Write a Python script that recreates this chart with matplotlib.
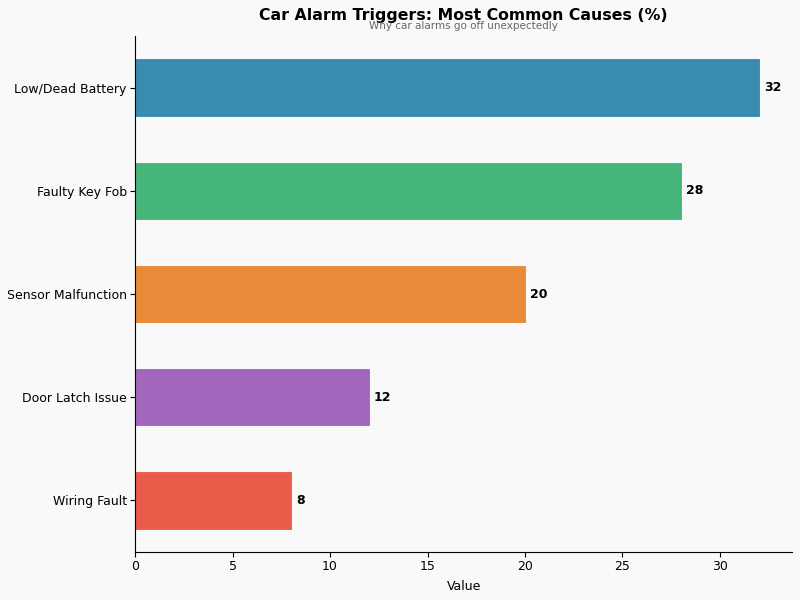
import matplotlib.pyplot as plt

# data
causes = ['Low/Dead Battery', 'Faulty Key Fob', 'Sensor Malfunction', 'Door Latch Issue', 'Wiring Fault']
percents = [32, 28, 20, 12, 8]
colors = ['#2E86AB', '#3BB273', '#E8842C', '#9E5FBA', '#E8533F']

fig, ax = plt.subplots(figsize=(8, 6), dpi=100)
fig.patch.set_facecolor('#F9F9F9')
ax.set_facecolor('#F9F9F9')

ypos = list(range(len(causes)))[::-1]
bars = ax.barh(ypos, percents, height=0.55, color=colors, alpha=0.95,
               edgecolor=colors, linewidth=0.6)

for y, v in zip(ypos, percents):
    ax.text(v + 0.25, y, str(v), va='center', ha='left', fontsize=9, fontweight='bold')

ax.set_yticks(ypos)
ax.set_yticklabels(causes, fontsize=9)
ax.tick_params(axis='y', pad=2.5)
ax.tick_params(axis='x', labelsize=9, pad=2.5)
ax.set_xlim(0, 33.7)
ax.set_xlabel('Value', fontsize=9, labelpad=5)

ax.spines['top'].set_visible(False)
ax.spines['right'].set_visible(False)

fig.text(0.579, 0.974, 'Car Alarm Triggers: Most Common Causes (%)', ha='center', va='center',
         fontsize=11.3, fontweight='bold')
fig.text(0.579, 0.957, 'Why car alarms go off unexpectedly', ha='center', va='center',
         fontsize=7.5, color='#666666')

plt.subplots_adjust(left=0.169, right=0.99, top=0.94, bottom=0.08)
plt.savefig('out.png', dpi=100, facecolor=fig.get_facecolor())
